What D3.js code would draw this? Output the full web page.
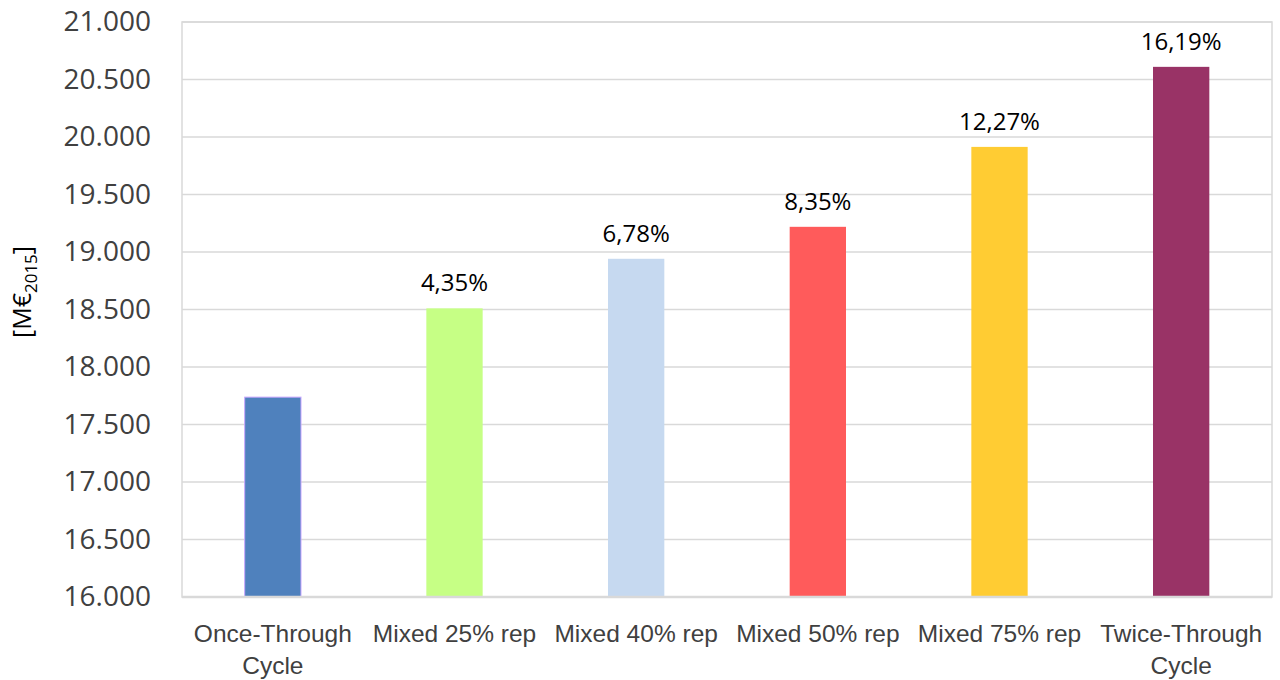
<!DOCTYPE html>
<html lang="en">
<head>
<meta charset="UTF-8">
<title>Cost comparison</title>
<script src="https://d3js.org/d3.v7.min.js"></script>
<style>
  body { margin: 0; background: #fff; }
  svg { display: block; font-family: "Open Sans", sans-serif; }
</style>
</head>
<body>
<svg id="chart" width="1280" height="680"></svg>
<script>
// chart data
const categories = ["Once-Through Cycle", "Mixed 25% rep", "Mixed 40% rep", "Mixed 50% rep", "Mixed 75% rep", "Twice-Through Cycle"];
const values = [17738, 18510, 18941, 19219, 19914, 20610];
const pctLabels = ["", "4,35%", "6,78%", "8,35%", "12,27%", "16,19%"];
const barColors = ["#4f81bd", "#c6ff85", "#c6d9f0", "#ff5b5b", "#ffcc33", "#993366"];
const yTicks = [16000, 16500, 17000, 17500, 18000, 18500, 19000, 19500, 20000, 20500, 21000];

const svg = d3.select("#chart");
const margin = {top: 22, right: 8, bottom: 83, left: 182};
const width = 1280 - margin.left - margin.right,
      height = 680 - margin.top - margin.bottom;

const g = svg.append("g").attr("transform", `translate(${margin.left},${margin.top})`);

const x = d3.scaleBand().domain(categories).range([0, width]).paddingInner(0.69).paddingOuter(0.345);
const y = d3.scaleLinear().domain([16000, 21000]).range([height, 0]);

// gridlines
g.selectAll(".grid").data(yTicks).join("line")
  .attr("x1", 0).attr("x2", width)
  .attr("y1", d => y(d)).attr("y2", d => y(d))
  .attr("stroke", "#d9d9d9").attr("stroke-width", 1.5);

// plot border
g.append("rect").attr("x", 0).attr("y", 0).attr("width", width).attr("height", height)
  .attr("fill", "none").attr("stroke", "#d9d9d9").attr("stroke-width", 1.5);

// y axis labels
const yAxis = d3.axisLeft(y).tickValues(yTicks).tickSize(0).tickPadding(31)
  .tickFormat(d => d3.format(",")(d).replace(/,/g, "."));
const ya = g.append("g").call(yAxis);
ya.select(".domain").remove();
ya.selectAll("text").attr("font-size", 28).attr("fill", "#404040").attr("font-family", "Open Sans, sans-serif");

// bars
g.selectAll(".bar").data(values).join("rect")
  .attr("x", (d, i) => x(categories[i]))
  .attr("width", x.bandwidth())
  .attr("y", d => y(d))
  .attr("height", d => height - y(d))
  .attr("fill", (d, i) => barColors[i])
  .attr("stroke", (d, i) => i === 0 ? "#c9a6ff" : "none")
  .attr("stroke-width", 1);

// bottom axis line
g.append("line").attr("x1", 0).attr("x2", width).attr("y1", height).attr("y2", height)
  .attr("stroke", "#d9d9d9").attr("stroke-width", 2.5);

// percentage labels
g.selectAll(".pct").data(values).join("text")
  .attr("x", (d, i) => x(categories[i]) + x.bandwidth() / 2)
  .attr("y", d => y(d) - 17)
  .attr("text-anchor", "middle")
  .attr("font-size", 24).attr("fill", "#000")
  .text((d, i) => pctLabels[i]);

// category labels, two lines when needed
const xAxis = d3.axisBottom(x).tickSize(0).tickPadding(0).tickFormat("");
const xa = g.append("g").attr("transform", `translate(0,${height})`).call(xAxis);
xa.select(".domain").remove();
xa.selectAll(".tick").append("text")
  .attr("text-anchor", "middle").attr("font-size", 24.5).attr("fill", "#404040")
  .each(function(d) {
    const parts = d.endsWith(" Cycle") ? [d.replace(" Cycle", ""), "Cycle"] : [d];
    parts.forEach((p, k) => {
      d3.select(this).append("tspan").attr("x", 0).attr("y", 45 + k * 32).text(p);
    });
  });

// y axis title
const title = svg.append("text")
  .attr("transform", "translate(31,292) rotate(-90)")
  .attr("text-anchor", "middle").attr("font-size", 25).attr("fill", "#000");
title.append("tspan").text("[M€");
title.append("tspan").attr("font-size", 17).attr("dy", 6).text("2015");
title.append("tspan").attr("dy", -6).text("]");
</script>
</body>
</html>
